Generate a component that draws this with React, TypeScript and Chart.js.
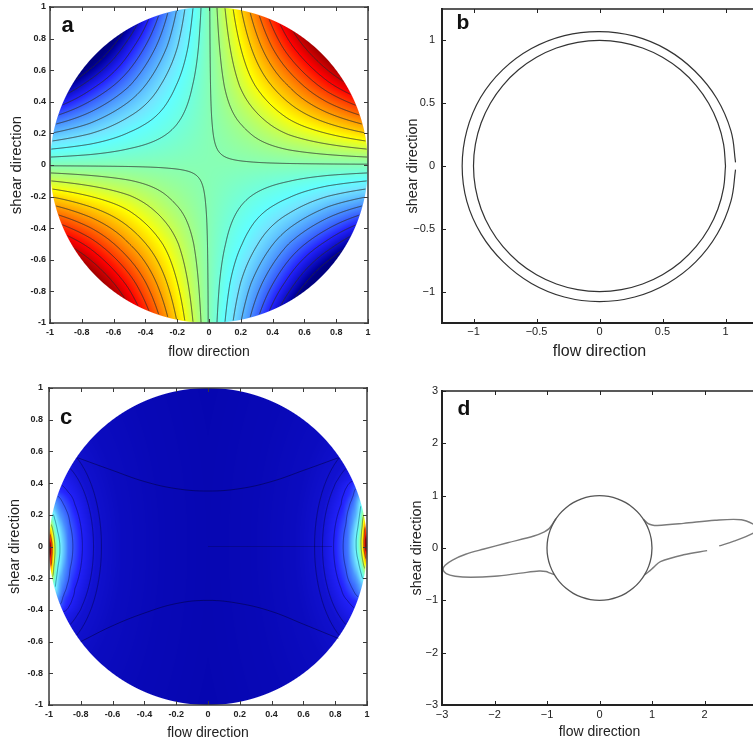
import React, { useEffect, useRef } from "react";
import { Chart, registerables } from "chart.js";

Chart.register(...registerables);

const FONT = "'Liberation Sans', Arial, Helvetica, sans-serif";

// ---------------- Panel a : contour field ----------------
const aTicks = [-1, -0.8, -0.6, -0.4, -0.2, 0, 0.2, 0.4, 0.6, 0.8, 1];
const aGridX = [-1, -0.75, -0.5, -0.25, 0, 0.25, 0.5, 0.75, 1];
const aGridY = [1, 0.75, 0.5, 0.25, 0, -0.25, -0.5, -0.75, -1];
const aGridValues = [
  [-0.53, -0.28, -0.03, 0.22, 0.47, 0.72, 0.97, 1.22, 1.47],
  [-0.28, -0.09, 0.1, 0.28, 0.47, 0.66, 0.85, 1.03, 1.22],
  [-0.03, 0.1, 0.22, 0.35, 0.47, 0.6, 0.72, 0.85, 0.97],
  [0.22, 0.28, 0.35, 0.41, 0.47, 0.53, 0.6, 0.66, 0.72],
  [0.47, 0.47, 0.47, 0.47, 0.47, 0.47, 0.47, 0.47, 0.47],
  [0.72, 0.66, 0.6, 0.53, 0.47, 0.41, 0.35, 0.28, 0.22],
  [0.97, 0.85, 0.72, 0.6, 0.47, 0.35, 0.22, 0.1, -0.03],
  [1.22, 1.03, 0.85, 0.66, 0.47, 0.28, 0.1, -0.09, -0.28],
  [1.47, 1.22, 0.97, 0.72, 0.47, 0.22, -0.03, -0.28, -0.53],
];
const aLevels = [0.02, 0.07, 0.12, 0.17, 0.22, 0.27, 0.32, 0.37, 0.42, 0.475, 0.52, 0.57, 0.62, 0.67, 0.72, 0.77, 0.82, 0.87, 0.92, 0.97];

// ---------------- Panel b : two closed curves ----------------
const bTicks = [-1, -0.5, 0, 0.5, 1];
const bInnerAngles = [0, 10, 20, 30, 40, 50, 60, 70, 80, 90, 100, 110, 120, 130, 140, 150, 160, 170, 180, 190, 200, 210, 220, 230, 240, 250, 260, 270, 280, 290, 300, 310, 320, 330, 340, 350, 360];
const bInnerR = [1, 1, 1, 1, 1, 1, 1, 1, 1, 1, 1, 1, 1, 1, 1, 1, 1, 1, 1, 1, 1, 1, 1, 1, 1, 1, 1, 1, 1, 1, 1, 1, 1, 1, 1, 1, 1];
const bOuterAngles = [1.5, 15, 30, 45, 60, 75, 90, 105, 120, 135, 150, 165, 180, 195, 210, 225, 240, 255, 270, 285, 300, 315, 330, 345, 358.5];
const bOuterR = [1.08, 1.08, 1.075, 1.07, 1.07, 1.07, 1.07, 1.075, 1.08, 1.085, 1.09, 1.09, 1.09, 1.09, 1.085, 1.08, 1.08, 1.08, 1.08, 1.08, 1.08, 1.08, 1.08, 1.08, 1.08];

// ---------------- Panel c : edge-concentrated field ----------------
const cTicks = [-1, -0.8, -0.6, -0.4, -0.2, 0, 0.2, 0.4, 0.6, 0.8, 1];
const cFarDist = [0, 0.03, 0.07, 0.12, 0.2, 0.3, 0.45, 0.7, 1.2];
const cFarValue = [0.5, 0.4, 0.3, 0.2, 0.12, 0.075, 0.06, 0.052, 0.045];
const cFarAspect = 0.5;
const cNearDepth = [0, 0.01, 0.02, 0.035, 0.05, 0.08, 0.12];
const cNearDepthValue = [1, 0.85, 0.6, 0.35, 0.2, 0.08, 0];
const cNearSpan = [0, 0.06, 0.12, 0.2, 0.28, 0.38];
const cNearSpanValue = [1, 0.9, 0.7, 0.4, 0.15, 0];
const cNearCentre = 0.04;
const cNearWeight = 0.55;
const cLevels = [0.072, 0.084, 0.1155, 0.17, 0.37, 0.55, 0.75, 0.9];
const cTopArcX = [-0.82, -0.6, -0.4, -0.2, 0, 0.2, 0.4, 0.6, 0.82];
const cTopArcY = [0.56, 0.48, 0.41, 0.365, 0.35, 0.365, 0.41, 0.48, 0.56];
const cBottomArcX = [-0.8, -0.6, -0.4, -0.2, 0, 0.2, 0.4, 0.6, 0.82];
const cBottomArcY = [-0.6, -0.5, -0.42, -0.36, -0.34, -0.36, -0.41, -0.49, -0.58];
const cMidLineX = [0, 0.25, 0.5, 0.78];
const cMidLineY = [0, 0, 0, 0];

// ---------------- Panel d : circle with two lobes ----------------
const dTicks = [-3, -2, -1, 0, 1, 2, 3];
const dCircleAngles = [0, 10, 20, 30, 40, 50, 60, 70, 80, 90, 100, 110, 120, 130, 140, 150, 160, 170, 180, 190, 200, 210, 220, 230, 240, 250, 260, 270, 280, 290, 300, 310, 320, 330, 340, 350, 360];
const dCircleR = [1, 1, 1, 1, 1, 1, 1, 1, 1, 1, 1, 1, 1, 1, 1, 1, 1, 1, 1, 1, 1, 1, 1, 1, 1, 1, 1, 1, 1, 1, 1, 1, 1, 1, 1, 1, 1];
const dLeftX = [-0.83, -0.9, -0.96, -1.05, -1.25, -1.75, -2.2, -2.55, -2.8, -2.94, -2.98, -2.92, -2.75, -2.45, -2.0, -1.5, -1.15, -1.02, -0.94, -0.86];
const dLeftY = [0.56, 0.45, 0.37, 0.31, 0.23, 0.1, -0.02, -0.12, -0.23, -0.33, -0.41, -0.49, -0.54, -0.56, -0.54, -0.48, -0.44, -0.45, -0.48, -0.51];
const dRightUpX = [0.84, 0.92, 1.0, 1.1, 1.6, 2.2, 2.7, 2.92, 3.02, 2.92, 2.56, 2.28];
const dRightUpY = [0.55, 0.47, 0.44, 0.43, 0.47, 0.53, 0.54, 0.46, 0.37, 0.28, 0.13, 0.04];
const dRightLowX = [2.05, 1.6, 1.16, 1.03, 0.94, 0.86];
const dRightLowY = [-0.05, -0.13, -0.26, -0.37, -0.45, -0.51];

// ---------------- helpers ----------------
const clamp01 = (v: number) => (v < 0 ? 0 : v > 1 ? 1 : v);

function interp1(xs: number[], vs: number[], x: number) {
  const n = xs.length;
  if (x <= xs[0]) return vs[0];
  if (x >= xs[n - 1]) return vs[n - 1];
  for (let i = 0; i < n - 1; i++) {
    if (x <= xs[i + 1]) {
      const t = (x - xs[i]) / (xs[i + 1] - xs[i]);
      return vs[i] + t * (vs[i + 1] - vs[i]);
    }
  }
  return vs[n - 1];
}

function locate(g: number[], v: number): [number, number] {
  const n = g.length;
  for (let i = 0; i < n - 1; i++) {
    const a = g[i], b = g[i + 1];
    if (v >= Math.min(a, b) && v <= Math.max(a, b)) return [i, (v - a) / (b - a)];
  }
  const asc = g[n - 1] > g[0];
  if ((asc && v < g[0]) || (!asc && v > g[0])) return [0, 0];
  return [n - 2, 1];
}

function bilinear(gx: number[], gy: number[], vals: number[][], x: number, y: number) {
  const [i, tx] = locate(gx, x);
  const [j, ty] = locate(gy, y);
  const v00 = vals[j][i], v01 = vals[j][i + 1], v10 = vals[j + 1][i], v11 = vals[j + 1][i + 1];
  return (v00 * (1 - tx) + v01 * tx) * (1 - ty) + (v10 * (1 - tx) + v11 * tx) * ty;
}

function aValueAt(x: number, y: number) {
  return bilinear(aGridX, aGridY, aGridValues, x, y);
}

function cValueAt(x: number, y: number) {
  const dx = 1 - Math.abs(x);
  const dy = y * cFarAspect;
  const far = interp1(cFarDist, cFarValue, Math.sqrt(dx * dx + dy * dy));
  const depth = Math.max(0, 1 - Math.sqrt(x * x + y * y));
  const y0 = x < 0 ? -cNearCentre : cNearCentre;
  const near = interp1(cNearDepth, cNearDepthValue, depth) * interp1(cNearSpan, cNearSpanValue, Math.abs(y - y0));
  return far + cNearWeight * near;
}

function colormap(v: number): [number, number, number] {
  const t = clamp01(v);
  let r = clamp01(1.5 - Math.abs(4 * t - 3));
  let g = clamp01(1.5 - Math.abs(4 * t - 2));
  let b = clamp01(1.5 - Math.abs(4 * t - 1));
  const w = 0.45 * Math.max(0, 1 - Math.abs(t - 0.33) / 0.3);
  r = r + (1 - r) * w;
  g = g + (1 - g) * w;
  b = b + (1 - b) * w;
  return [r * 255, g * 255, b * 255];
}

function zip(xs: number[], ys: number[]) {
  return xs.map((x, i) => ({ x, y: ys[i] }));
}

function polar(angles: number[], radii: number[]) {
  return angles.map((a, i) => ({
    x: radii[i] * Math.cos((a * Math.PI) / 180),
    y: radii[i] * Math.sin((a * Math.PI) / 180),
  }));
}

function strokeContours(ctx: CanvasRenderingContext2D, vals: Float32Array, w: number, h: number, ox: number, oy: number, levels: number[]) {
  ctx.beginPath();
  for (const L of levels) {
    for (let j = 0; j < h - 1; j++) {
      for (let i = 0; i < w - 1; i++) {
        const a = vals[j * w + i], b = vals[j * w + i + 1], c = vals[(j + 1) * w + i + 1], d = vals[(j + 1) * w + i];
        const idx = (a > L ? 8 : 0) | (b > L ? 4 : 0) | (c > L ? 2 : 0) | (d > L ? 1 : 0);
        if (idx === 0 || idx === 15) continue;
        const X = ox + i + 0.5, Y = oy + j + 0.5;
        const e0 = (): [number, number] => [X + (L - a) / (b - a), Y];
        const e1 = (): [number, number] => [X + 1, Y + (L - b) / (c - b)];
        const e2 = (): [number, number] => [X + (L - d) / (c - d), Y + 1];
        const e3 = (): [number, number] => [X, Y + (L - a) / (d - a)];
        const seg = (p: [number, number], q: [number, number]) => {
          ctx.moveTo(p[0], p[1]);
          ctx.lineTo(q[0], q[1]);
        };
        switch (idx) {
          case 1: case 14: seg(e3(), e2()); break;
          case 2: case 13: seg(e2(), e1()); break;
          case 3: case 12: seg(e3(), e1()); break;
          case 4: case 11: seg(e0(), e1()); break;
          case 5: seg(e0(), e1()); seg(e2(), e3()); break;
          case 6: case 9: seg(e0(), e2()); break;
          case 7: case 8: seg(e0(), e3()); break;
          case 10: seg(e0(), e3()); seg(e1(), e2()); break;
        }
      }
    }
  }
  ctx.stroke();
}

function makeFieldPlugin(valueAt: (x: number, y: number) => number, levels: number[], lineColor: string, lineWidth: number) {
  return {
    id: "fieldPlugin",
    beforeDatasetsDraw(chart: any) {
      const { ctx, chartArea: ca, scales } = chart;
      const xs = scales.x, ys = scales.y;
      const left = Math.round(ca.left), top = Math.round(ca.top);
      const w = Math.round(ca.right) - left, h = Math.round(ca.bottom) - top;
      const off = document.createElement("canvas");
      off.width = w;
      off.height = h;
      const octx = off.getContext("2d")!;
      const img = octx.createImageData(w, h);
      const vals = new Float32Array(w * h);
      const ppu = xs.getPixelForValue(1) - xs.getPixelForValue(0);
      for (let j = 0; j < h; j++) {
        const y = ys.getValueForPixel(top + j + 0.5);
        for (let i = 0; i < w; i++) {
          const x = xs.getValueForPixel(left + i + 0.5);
          const v = valueAt(x, y);
          vals[j * w + i] = v;
          const r = Math.sqrt(x * x + y * y);
          const cov = clamp01((1 - r) * ppu + 0.5);
          const [R, G, B] = colormap(v);
          const k = (j * w + i) * 4;
          img.data[k] = R;
          img.data[k + 1] = G;
          img.data[k + 2] = B;
          img.data[k + 3] = cov * 255;
        }
      }
      octx.putImageData(img, 0, 0);
      ctx.drawImage(off, left, top);
      const cx = xs.getPixelForValue(0), cy = ys.getPixelForValue(0);
      const rx = xs.getPixelForValue(1) - cx, ry = cy - ys.getPixelForValue(1);
      ctx.save();
      ctx.beginPath();
      ctx.ellipse(cx, cy, rx - 0.5, ry - 0.5, 0, 0, Math.PI * 2);
      ctx.clip();
      ctx.strokeStyle = lineColor;
      ctx.lineWidth = lineWidth;
      strokeContours(ctx, vals, w, h, left, top, levels);
      ctx.restore();
    },
  };
}

type FrameCfg = {
  letter: string;
  lx: number;
  ly: number;
  lsize: number;
  widths: [number, number, number, number];
  color: string;
  tickLen: number;
};

function makeFramePlugin(cfg: FrameCfg) {
  return {
    id: "framePlugin",
    afterDraw(chart: any) {
      const { ctx, chartArea: ca, scales } = chart;
      const line = (x1: number, y1: number, x2: number, y2: number, w: number) => {
        ctx.lineWidth = w;
        ctx.beginPath();
        ctx.moveTo(x1, y1);
        ctx.lineTo(x2, y2);
        ctx.stroke();
      };
      ctx.save();
      ctx.strokeStyle = cfg.color;
      const L = cfg.tickLen;
      for (const t of scales.x.ticks) {
        const p = Math.round(scales.x.getPixelForValue(t.value)) + 0.5;
        line(p, ca.bottom, p, ca.bottom - L, 1);
        line(p, ca.top, p, ca.top + L, 1);
      }
      for (const t of scales.y.ticks) {
        const p = Math.round(scales.y.getPixelForValue(t.value)) + 0.5;
        line(ca.left, p, ca.left + L, p, 1);
        line(ca.right, p, ca.right - L, p, 1);
      }
      const [wt, wr, wb, wl] = cfg.widths;
      const ext = 1;
      line(ca.left - ext, ca.top, ca.right + ext, ca.top, wt);
      line(ca.right, ca.top - ext, ca.right, ca.bottom + ext, wr);
      line(ca.left - ext, ca.bottom, ca.right + ext, ca.bottom, wb);
      line(ca.left, ca.top - ext, ca.left, ca.bottom + ext, wl);
      ctx.fillStyle = "#111";
      ctx.font = `bold ${cfg.lsize}px ${FONT}`;
      ctx.textAlign = "left";
      ctx.textBaseline = "alphabetic";
      ctx.fillText(cfg.letter, cfg.lx, cfg.ly);
      ctx.restore();
    },
  };
}

type PanelCfg = {
  left: number;
  top: number;
  width: number;
  height: number;
  padRight: number;
  padTop: number;
  yW: number;
  xH: number;
  xMin: number;
  xMax: number;
  yMin: number;
  yMax: number;
  xTicks: number[];
  yTicks: number[];
  unicodeMinus: boolean;
  tickFont: any;
  xTickPad: number;
  yTickPad: number;
  xTitleSize: number;
  xTitlePad: number;
  yTitleSize: number;
  yTitlePad: number;
};

function buildOptions(p: PanelCfg) {
  const fmt = (v: any) => {
    const s = String(Number(v));
    return p.unicodeMinus ? s.replace("-", "\u2212") : s;
  };
  const common = (isX: boolean) => ({
    type: "linear",
    min: isX ? p.xMin : p.yMin,
    max: isX ? p.xMax : p.yMax,
    afterBuildTicks: (s: any) => {
      s.ticks = (isX ? p.xTicks : p.yTicks).map((v) => ({ value: v }));
    },
    afterFit: (s: any) => {
      if (isX) s.height = p.xH;
      else s.width = p.yW;
      s.paddingTop = 0;
      s.paddingBottom = 0;
      s.paddingLeft = 0;
      s.paddingRight = 0;
    },
    grid: { display: false, drawTicks: false },
    border: { display: false },
    ticks: {
      autoSkip: false,
      maxRotation: 0,
      minRotation: 0,
      padding: isX ? p.xTickPad : p.yTickPad,
      font: p.tickFont,
      color: "#222",
      callback: (v: any) => fmt(v),
    },
    title: {
      display: true,
      text: isX ? "flow direction" : "shear direction",
      color: "#222",
      font: { family: FONT, size: isX ? p.xTitleSize : p.yTitleSize },
      padding: isX ? { top: 0, bottom: p.xTitlePad } : { top: p.yTitlePad, bottom: 0 },
    },
  });
  return {
    animation: false,
    responsive: false,
    maintainAspectRatio: false,
    devicePixelRatio: 1,
    events: [],
    layout: { padding: { left: 0, right: p.padRight, top: p.padTop, bottom: 0 } },
    plugins: { legend: { display: false }, tooltip: { enabled: false }, title: { display: false } },
    scales: { x: { ...common(true), position: "bottom" }, y: { ...common(false), position: "left" } },
  };
}

const lineDs = (data: any[], color: string, width: number, tension: number) => ({
  data,
  showLine: true,
  pointRadius: 0,
  borderColor: color,
  borderWidth: width,
  tension,
  fill: false,
});

const boldSmall = { family: FONT, size: 9, weight: "bold" };
const regular11 = { family: FONT, size: 11 };

const panelA: PanelCfg = {
  left: 0, top: 0, width: 376, height: 370, padRight: 8, padTop: 7, yW: 50, xH: 47,
  xMin: -1, xMax: 1, yMin: -1, yMax: 1, xTicks: aTicks, yTicks: aTicks, unicodeMinus: false,
  tickFont: boldSmall, xTickPad: 4.6, yTickPad: 4, xTitleSize: 14, xTitlePad: 9.6, yTitleSize: 15, yTitlePad: 8,
};
const panelB: PanelCfg = {
  left: 376, top: 0, width: 382, height: 370, padRight: 1, padTop: 9, yW: 66, xH: 47,
  xMin: -1.25, xMax: 1.25, yMin: -1.25, yMax: 1.25, xTicks: bTicks, yTicks: bTicks, unicodeMinus: true,
  tickFont: regular11, xTickPad: 2.4, yTickPad: 7, xTitleSize: 16, xTitlePad: 9, yTitleSize: 14.5, yTitlePad: 28,
};
const panelC: PanelCfg = {
  left: 0, top: 370, width: 376, height: 374, padRight: 9, padTop: 18, yW: 49, xH: 39,
  xMin: -1, xMax: 1, yMin: -1, yMax: 1, xTicks: cTicks, yTicks: cTicks, unicodeMinus: false,
  tickFont: boldSmall, xTickPad: 4.6, yTickPad: 6, xTitleSize: 14, xTitlePad: 2.6, yTitleSize: 14.5, yTitlePad: 6.3,
};
const panelD: PanelCfg = {
  left: 376, top: 370, width: 382, height: 374, padRight: 1, padTop: 21, yW: 66, xH: 39,
  xMin: -3, xMax: 3, yMin: -3, yMax: 3, xTicks: dTicks, yTicks: dTicks, unicodeMinus: true,
  tickFont: regular11, xTickPad: 3.4, yTickPad: 4, xTitleSize: 14, xTitlePad: 3.6, yTitleSize: 14.5, yTitlePad: 32,
};

const panels = [panelA, panelB, panelC, panelD];

export default function App() {
  const refs = [useRef<HTMLCanvasElement>(null), useRef<HTMLCanvasElement>(null), useRef<HTMLCanvasElement>(null), useRef<HTMLCanvasElement>(null)];

  useEffect(() => {
    const charts: Chart[] = [];
    const [ca, cb, cc, cd] = refs.map((r) => r.current!);

    charts.push(
      new Chart(ca, {
        type: "scatter",
        data: { datasets: [] },
        options: buildOptions(panelA) as any,
        plugins: [
          makeFieldPlugin(aValueAt, aLevels, "rgba(45,45,45,0.8)", 1),
          makeFramePlugin({ letter: "a", lx: 61.5, ly: 31.5, lsize: 22, widths: [1.5, 1.5, 1.5, 1.5], color: "#3a3a3a", tickLen: 4 }),
        ],
      } as any)
    );

    charts.push(
      new Chart(cb, {
        type: "scatter",
        data: {
          datasets: [
            lineDs(polar(bOuterAngles, bOuterR), "#333", 1.2, 0.4),
            lineDs(polar(bInnerAngles, bInnerR), "#333", 1.2, 0.4),
          ],
        },
        options: buildOptions(panelB) as any,
        plugins: [makeFramePlugin({ letter: "b", lx: 80.5, ly: 28.5, lsize: 21, widths: [1.4, 1.4, 2, 2], color: "#222", tickLen: 4 })],
      } as any)
    );

    charts.push(
      new Chart(cc, {
        type: "scatter",
        data: {
          datasets: [
            lineDs(zip(cTopArcX, cTopArcY), "rgba(0,0,40,0.45)", 1, 0.4),
            lineDs(zip(cBottomArcX, cBottomArcY), "rgba(0,0,40,0.45)", 1, 0.4),
            lineDs(zip(cMidLineX, cMidLineY), "rgba(0,0,40,0.25)", 1, 0),
          ],
        },
        options: buildOptions(panelC) as any,
        plugins: [
          makeFieldPlugin(cValueAt, cLevels, "rgba(0,0,40,0.4)", 1),
          makeFramePlugin({ letter: "c", lx: 60, ly: 53.5, lsize: 22, widths: [1.5, 1.5, 1.5, 1.5], color: "#3a3a3a", tickLen: 4 }),
        ],
      } as any)
    );

    charts.push(
      new Chart(cd, {
        type: "scatter",
        data: {
          datasets: [
            lineDs(polar(dCircleAngles, dCircleR), "#555", 1.3, 0.4),
            lineDs(zip(dLeftX, dLeftY), "#7a7a7a", 1.4, 0.35),
            lineDs(zip(dRightUpX, dRightUpY), "#7a7a7a", 1.4, 0.35),
            lineDs(zip(dRightLowX, dRightLowY), "#7a7a7a", 1.4, 0.35),
          ],
        },
        options: buildOptions(panelD) as any,
        plugins: [makeFramePlugin({ letter: "d", lx: 81.5, ly: 45, lsize: 21, widths: [1.4, 1.4, 2, 2], color: "#222", tickLen: 4 })],
      } as any)
    );

    return () => charts.forEach((c) => c.destroy());
  }, []);

  return (
    <div style={{ position: "fixed", left: 0, top: 0, width: 753, height: 744, overflow: "hidden", background: "#fff" }}>
      {panels.map((p, i) => (
        <canvas
          key={i}
          ref={refs[i]}
          width={p.width}
          height={p.height}
          style={{ position: "absolute", left: p.left, top: p.top, width: p.width, height: p.height }}
        />
      ))}
    </div>
  );
}
